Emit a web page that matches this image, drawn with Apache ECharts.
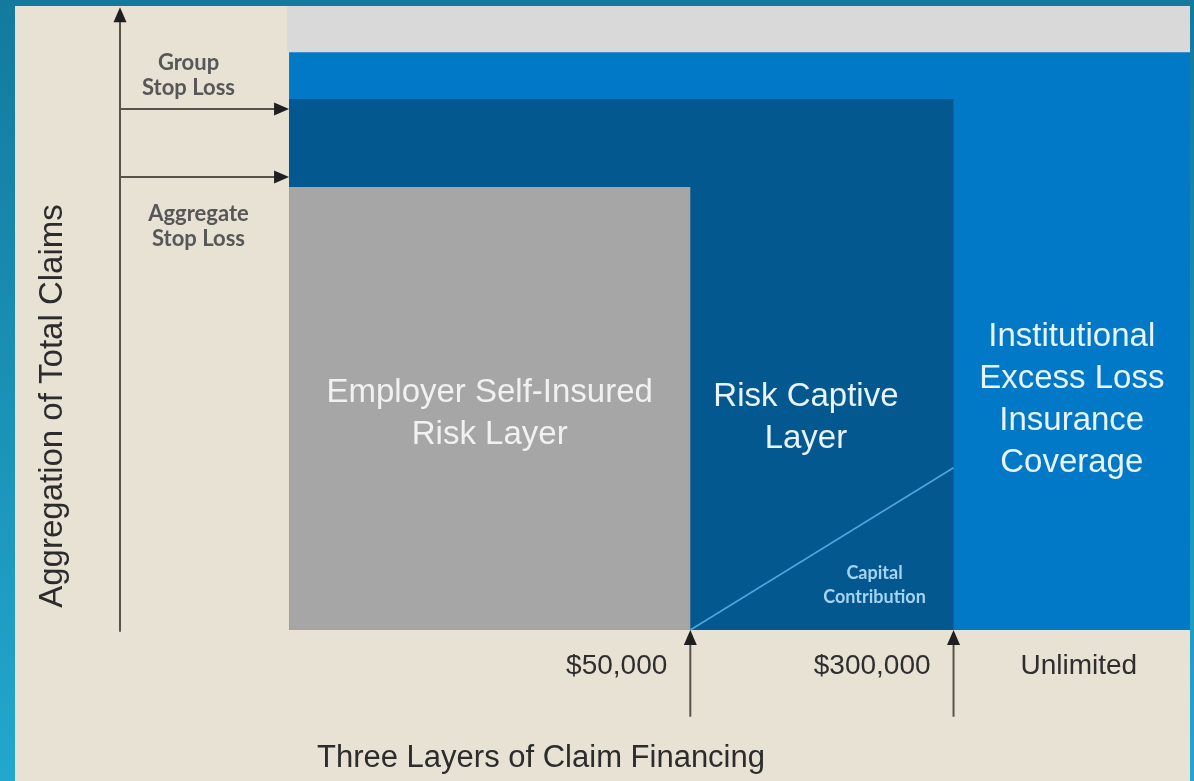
<!DOCTYPE html>
<html><head><meta charset="utf-8">
<script src="https://cdn.jsdelivr.net/npm/echarts@6/dist/echarts.min.js"></script>
<style>html,body{margin:0;padding:0;background:#1a8db5;}#c{width:1194px;height:781px;}</style>
</head><body><div id="c"></div>
<script>
// ---- data (diagram units: x 0 = claims axis, 100 = right edge; y 0 = base line) ----
const layerNames = ['Employer Self-Insured\nRisk Layer', 'Risk Captive\nLayer', 'Institutional\nExcess Loss\nInsurance\nCoverage'];
const layerStartX = 15.8;
const layerEndX = [53.3, 77.9, 100];
const layerTop = [71.0, 85.1, 92.6];
const bandTop = 100;
const thresholdLabels = ['$50,000', '$300,000', 'Unlimited'];
const stopLossNames = ['Group\nStop Loss', 'Aggregate\nStop Loss'];
const stopLossLevels = [83.5, 72.6];
const capitalContributionName = 'Capital\nContribution';
const capitalContributionTop = 26.0;
const claimsAxisTop = 99.8;
const arrowBottom = -13.9;
const xTitle = 'Three Layers of Claim Financing';
const yTitle = 'Aggregation of Total Claims';

// ---- styles ----
const layerColors = ['#a6a6a6', '#03588f', '#0279c7'];
const layerTextColors = ['#f1f1f1', '#e8f3fb', '#e8f3fb'];
const layerLabelDx = [0, -16, 0];
const layerLabelDy = [5, 53, 59];
const arrowColor = '#58524b';
const headColor = '#1f1f1f';
const BIG = '"Liberation Sans", Arial, sans-serif';

const chart = echarts.init(document.getElementById('c'));

const layerData = layerNames.map((n, i) => [layerStartX, layerEndX[i], layerTop[i], i]).reverse();

// arrows: [fromX, fromY, toX, toY]
const arrowData = [[0, -0.3, 0, claimsAxisTop]]
  .concat(stopLossLevels.map(v => [0, v, layerStartX, v]))
  .concat(layerEndX.slice(0, 2).map(x => [x, arrowBottom, x, 0]));

chart.setOption({
  animation: false,
  backgroundColor: {
    type: 'linear', x: 0, y: 0, x2: 0, y2: 1,
    colorStops: [{offset: 0, color: '#137a9e'}, {offset: 1, color: '#22a7ce'}]
  },
  grid: {left: 120, right: 4, top: 6, bottom: 1.24},
  xAxis: {type: 'value', min: 0, max: 100, show: false},
  yAxis: {type: 'value', min: -24, max: 100, show: false},
  graphic: [
    {type: 'rect', z: -10, shape: {x: 15, y: 6, width: 1175, height: 775}, style: {fill: '#e8e2d5'}},
    {type: 'text', z: 100, x: 53, y: 406, rotation: Math.PI / 2,
      style: {text: yTitle, font: '33px ' + BIG, fill: '#2c2c2c', align: 'center', verticalAlign: 'middle'}},
    {type: 'text', z: 100, x: 541, y: 758,
      style: {text: xTitle, font: '31px ' + BIG, fill: '#2c2c2c', align: 'center', verticalAlign: 'middle'}}
  ],
  series: [
    // light grey top band
    {
      type: 'custom', z: 1, silent: true,
      data: [[layerStartX, 100, layerTop[2], bandTop]],
      renderItem: function (params, api) {
        const a = api.coord([api.value(0), api.value(3)]);
        const b = api.coord([api.value(1), api.value(2)]);
        return {type: 'rect', shape: {x: a[0] - 2, y: a[1], width: b[0] - a[0] + 2, height: b[1] - a[1]},
          style: {fill: '#d9d9d9'}};
      }
    },
    // layers
    {
      type: 'custom', z: 2, silent: true,
      data: layerData,
      renderItem: function (params, api) {
        const x0 = api.value(0), x1 = api.value(1), top = api.value(2), i = api.value(3);
        const p0 = api.coord([x0, 0]);
        const p1 = api.coord([x1, top]);
        const left = i === 0 ? p0[0] : api.coord([layerEndX[i - 1], 0])[0];
        const cx = (left + p1[0]) / 2 + layerLabelDx[i];
        const cy = (p1[1] + p0[1]) / 2 + layerLabelDy[i];
        const children = [
          {type: 'rect', shape: {x: p0[0], y: p1[1], width: p1[0] - p0[0], height: p0[1] - p1[1]},
            style: {fill: layerColors[i]}},
          {type: 'text', z2: 10, style: {text: layerNames[i], x: cx, y: cy, font: '33px ' + BIG,
            lineHeight: 42, fill: layerTextColors[i], align: 'center', verticalAlign: 'middle'}}
        ];
        if (i === 1) {
          children.push({type: 'text', z2: 10, style: {text: capitalContributionName,
            x: p1[0] - 79, y: p0[1] - 45, font: 'bold 18px Lato, sans-serif', lineHeight: 24,
            fill: '#a6d3f1', align: 'center', verticalAlign: 'middle'}});
        }
        return {type: 'group', children: children};
      }
    },
    // capital contribution diagonal
    {
      type: 'lines', coordinateSystem: 'cartesian2d', z: 3, silent: true,
      symbol: ['none', 'none'],
      lineStyle: {color: '#4ea6e2', width: 1.5, opacity: 1},
      data: [{coords: [[layerEndX[0], 0], [layerEndX[1], capitalContributionTop]]}]
    },
    // arrows (axis, stop-loss levels, thresholds)
    {
      type: 'custom', z: 4, silent: true,
      data: arrowData,
      renderItem: function (params, api) {
        const a = api.coord([api.value(0), api.value(1)]);
        const b = api.coord([api.value(2), api.value(3)]);
        const dx = b[0] - a[0], dy = b[1] - a[1];
        const len = Math.sqrt(dx * dx + dy * dy);
        const ux = dx / len, uy = dy / len;
        const hl = 15, hw = 6.5;
        const bx = b[0] - ux * hl, by = b[1] - uy * hl;
        return {type: 'group', children: [
          {type: 'line', shape: {x1: a[0], y1: a[1], x2: bx + ux * 2, y2: by + uy * 2},
            style: {stroke: arrowColor, lineWidth: 2}},
          {type: 'polygon', shape: {points: [[b[0], b[1]], [bx - uy * hw, by + ux * hw], [bx + uy * hw, by - ux * hw]]},
            style: {fill: headColor}}
        ]};
      }
    },
    // threshold labels
    {
      type: 'custom', z: 5, silent: true,
      data: thresholdLabels.map((t, i) => [i]),
      renderItem: function (params, api) {
        const i = api.value(0);
        let x, align;
        const base = api.coord([layerEndX[i], 0]);
        if (i < 2) { x = base[0] - 23; align = 'right'; }
        else { x = (api.coord([layerEndX[1], 0])[0] + base[0]) / 2 + 7; align = 'center'; }
        return {type: 'text', style: {text: thresholdLabels[i], x: x, y: base[1] + 36,
          font: '28px ' + BIG, fill: '#2e2e2e', align: align, verticalAlign: 'middle'}};
      }
    },
    // stop loss labels
    {
      type: 'custom', z: 5, silent: true,
      data: stopLossNames.map((t, i) => [i, stopLossLevels[i]]),
      renderItem: function (params, api) {
        const i = api.value(0);
        const p = api.coord([0, api.value(1)]);
        const e = api.coord([layerStartX, api.value(1)]);
        const cx = (p[0] + e[0]) / 2 + (i === 0 ? -16 : -6);
        const cy = i === 0 ? p[1] - 34 : p[1] + 49;
        return {type: 'text', style: {text: stopLossNames[i], x: cx, y: cy,
          font: 'bold 22px Lato, sans-serif', lineHeight: 25, fill: '#575757', align: 'center', verticalAlign: 'middle'}};
      }
    }
  ]
});
</script>
</body></html>
